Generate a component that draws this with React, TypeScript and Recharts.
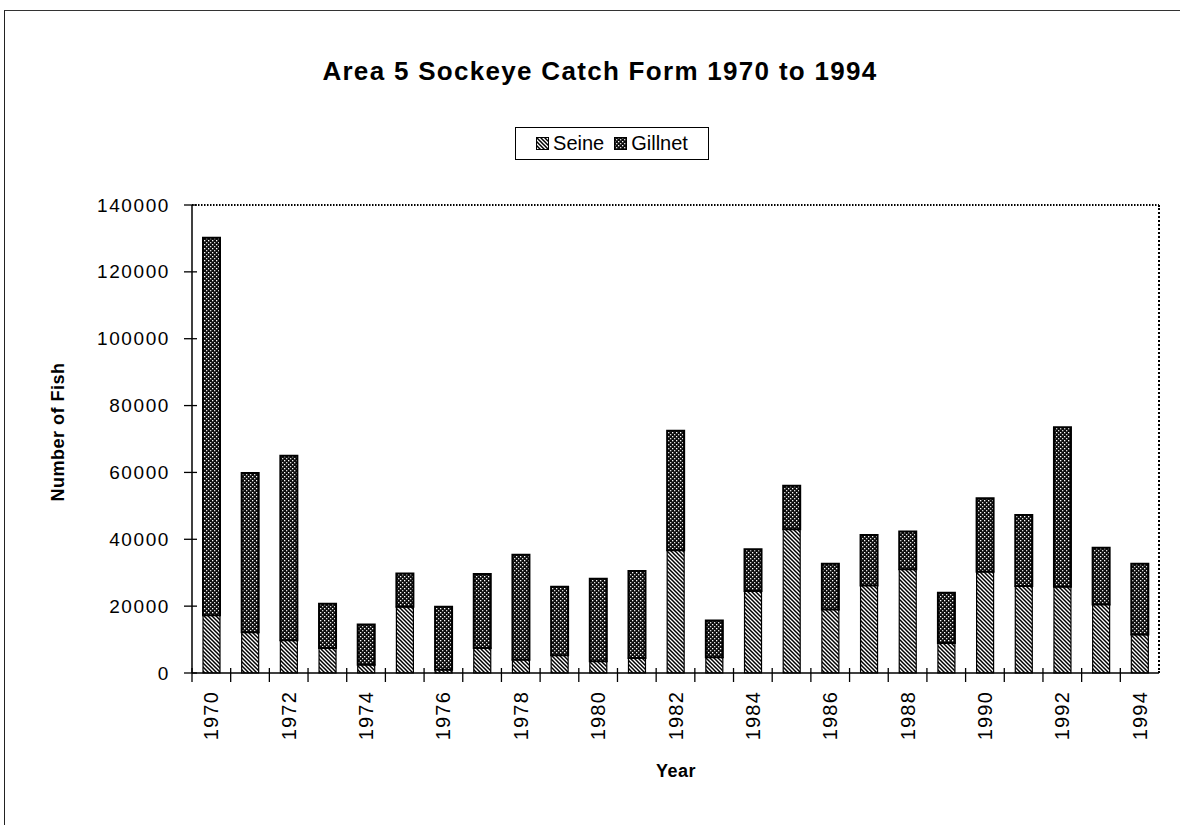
import React from 'react';
import { BarChart, Bar, XAxis, YAxis, ReferenceLine } from 'recharts';

const years = [
  '1970', '1971', '1972', '1973', '1974', '1975', '1976', '1977', '1978', '1979',
  '1980', '1981', '1982', '1983', '1984', '1985', '1986', '1987', '1988', '1989',
  '1990', '1991', '1992', '1993', '1994',
];
const seine = [
  17300, 12200, 9800, 7500, 2500, 19800, 1000, 7500, 4000, 5300,
  3500, 4500, 36700, 4700, 24500, 43000, 19000, 26200, 31000, 9000,
  30300, 26000, 25800, 20500, 11500,
];
const gillnet = [
  112900, 47600, 55200, 13200, 12000, 10000, 18800, 22100, 31400, 20500,
  24700, 26000, 35800, 11000, 12500, 13000, 13700, 15100, 11300, 15000,
  22000, 21300, 47700, 17000, 21200,
];
const yTicks = [0, 20000, 40000, 60000, 80000, 100000, 120000, 140000];

const data = years.map((year, i) => ({ year, seine: seine[i], gillnet: gillnet[i] }));

const font = '"Liberation Sans", Arial, sans-serif';
const BAND = 967 / 25;

const YTick = (props: any) => {
  const { x, y, payload } = props;
  const ax = x + 22;
  return (
    <g>
      <line x1={ax - 8} x2={ax + 5} y1={y} y2={y} stroke="#000" strokeWidth={1.3} />
      <text x={x} y={y} textAnchor="end" dominantBaseline="central" fontSize={19}
        letterSpacing={1.6} fontFamily={font} fill="#000">{payload.value}</text>
    </g>
  );
};

const XTick = (props: any) => {
  const { x, y, payload } = props;
  const ay = y - 8;
  const lx = x - BAND / 2;
  const label = Number(payload.value) % 2 === 0;
  return (
    <g>
      <line x1={lx} x2={lx} y1={ay - 5} y2={ay + 9} stroke="#000" strokeWidth={1.3} />
      {label && (
        <text x={x} y={ay + 18} textAnchor="end" dominantBaseline="central" fontSize={20}
          letterSpacing={1.2} fontFamily={font} fill="#000"
          transform={`rotate(-90, ${x}, ${ay + 18})`}>{payload.value}</text>
      )}
    </g>
  );
};

const Swatch = ({ fill }: { fill: string }) => (
  <svg width={13} height={13} style={{ verticalAlign: 'middle', marginRight: 4 }}>
    <rect x={0.5} y={0.5} width={12} height={12} fill={fill} stroke="#000" />
  </svg>
);

export default function App() {
  return (
    <div style={{ position: 'absolute', left: 0, top: 0, width: 1180, height: 825, background: '#fff', fontFamily: font }}>
      <svg width={0} height={0} style={{ position: 'absolute' }}>
        <defs>
          <pattern id="seinePat" patternUnits="userSpaceOnUse" width={4} height={4}>
            <rect width={4} height={4} fill="#fff" />
            <path d="M0,0 L4,4 M-1,3 L1,5 M3,-1 L5,1" stroke="#000" strokeWidth={1.5} />
          </pattern>
          <pattern id="gillPat" patternUnits="userSpaceOnUse" width={4} height={4}>
            <rect width={4} height={4} fill="#0d0d0d" />
            <rect x={0} y={0} width={1.3} height={1.3} fill="#fff" />
            <rect x={2} y={2} width={1.3} height={1.3} fill="#ddd" />
          </pattern>
        </defs>
      </svg>

      <div style={{ position: 'absolute', left: 4, top: 10, width: 1176, height: 815, borderTop: '1.5px solid #333', borderLeft: '1.5px solid #222' }} />

      <div style={{ position: 'absolute', top: 56, left: 0, width: 1200, textAlign: 'center', fontSize: 26, fontWeight: 'bold', letterSpacing: 1.3 }}>
        Area 5 Sockeye Catch Form 1970 to 1994
      </div>

      <div style={{ position: 'absolute', top: 127, left: 515, width: 194, height: 33, border: '1.5px solid #000', boxSizing: 'border-box', display: 'flex', alignItems: 'center', justifyContent: 'center', fontSize: 20 }}>
        <Swatch fill="url(#seinePat)" />
        <span style={{ marginRight: 10 }}>Seine</span>
        <Swatch fill="url(#gillPat)" />
        <span>Gillnet</span>
      </div>

      <div style={{ position: 'absolute', left: 58, top: 432, transform: 'translate(-50%, -50%) rotate(-90deg)', fontSize: 18, fontWeight: 'bold', whiteSpace: 'nowrap', letterSpacing: 0.5 }}>
        Number of Fish
      </div>
      <div style={{ position: 'absolute', left: 676, top: 771, transform: 'translate(-50%, -50%)', fontSize: 18, fontWeight: 'bold', letterSpacing: 0.5 }}>
        Year
      </div>

      <div style={{ position: 'absolute', left: 1158, top: 205, width: 0, height: 468, borderRight: '2px dotted #000' }} />

      <div style={{ position: 'absolute', left: 0, top: 0 }}>
        <BarChart width={1180} height={825} data={data} barSize={17}
          margin={{ top: 205, right: 21, bottom: 92, left: 92 }}>
          <XAxis dataKey="year" interval={0} height={60} tickSize={0} tickMargin={8}
            tick={<XTick />} axisLine={{ stroke: '#000', strokeWidth: 1.5 }} tickLine={false} />
          <YAxis width={100} domain={[0, 140000]} ticks={yTicks} interval={0}
            tickSize={0} tickMargin={22} tick={<YTick />} tickLine={false}
            axisLine={{ stroke: '#000', strokeWidth: 1.5 }} />
          <ReferenceLine y={140000} stroke="#000" strokeWidth={2} strokeDasharray="1.5 1.5" />
          <Bar dataKey="seine" name="Seine" stackId="a" fill="url(#seinePat)"
            stroke="#000" strokeWidth={1.2} isAnimationActive={false} />
          <Bar dataKey="gillnet" name="Gillnet" stackId="a" fill="url(#gillPat)"
            stroke="#000" strokeWidth={2} isAnimationActive={false} />
        </BarChart>
      </div>
    </div>
  );
}
